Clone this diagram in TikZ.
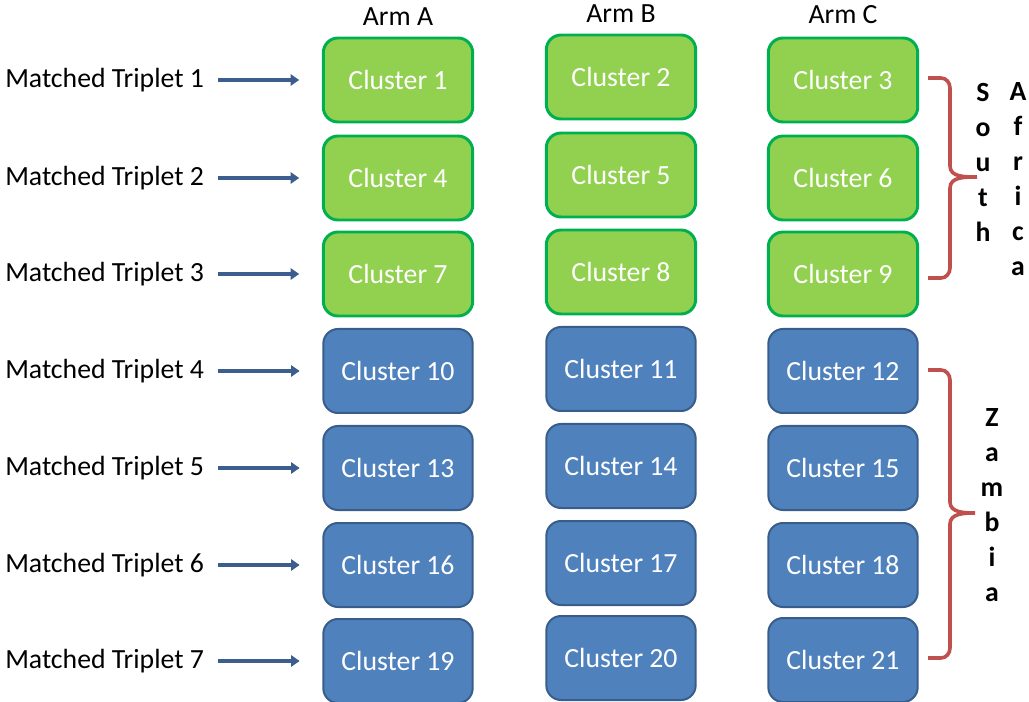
\documentclass[tikz,border=0pt]{standalone}
\usepackage{fontspec}
\setmainfont{Carlito}
\usetikzlibrary{arrows.meta}

\definecolor{boxgreen}{HTML}{92D050}
\definecolor{edgegreen}{HTML}{00B050}
\definecolor{boxblue}{HTML}{4F81BD}
\definecolor{edgeblue}{HTML}{385D8A}
\definecolor{arrowblue}{HTML}{3B5E8F}
\definecolor{bracered}{HTML}{C0504D}

\begin{document}
\begin{tikzpicture}[x=0.75pt, y=-0.75pt,
    every node/.style={font=\fontsize{20.8}{25}\selectfont},
    cluster/.style={rounded corners=11pt, minimum width=112pt, minimum height=63pt,
        inner sep=0pt, text=white},
    sabox/.style={cluster, draw=edgegreen, fill=boxgreen, line width=2.2pt},
    zmbox/.style={cluster, draw=edgeblue, fill=boxblue, line width=1.5pt},
    triplet/.style={anchor=west, inner sep=0pt},
    link/.style={arrowblue, line width=3.2pt, -{Triangle[length=6.5pt,width=8.5pt]},
        shorten <=10.5pt, shorten >=17pt},
    bracket/.style={bracered, line width=2.7pt},
    country/.style={font=\fontsize{20.8}{26.25}\selectfont\bfseries, align=center, inner sep=0pt}]

    \useasboundingbox (0,0) rectangle (1029,702);

    % Column headers
    \node (armA) at (398,17) {Arm A};
    \node (armB) at (621,14) {Arm B};
    \node (armC) at (843,15) {Arm C};

    % South Africa clusters
    \node[sabox] (c1) at (398,80) {Cluster 1};
    \node[sabox] (c2) at (621,77) {Cluster 2};
    \node[sabox] (c3) at (843,80) {Cluster 3};
    \node[sabox] (c4) at (398,178) {Cluster 4};
    \node[sabox] (c5) at (621,175) {Cluster 5};
    \node[sabox] (c6) at (843,178) {Cluster 6};
    \node[sabox] (c7) at (398,274) {Cluster 7};
    \node[sabox] (c8) at (621,272) {Cluster 8};
    \node[sabox] (c9) at (843,274) {Cluster 9};

    % Zambia clusters
    \node[zmbox] (c10) at (398,371) {Cluster 10};
    \node[zmbox] (c11) at (621,369) {Cluster 11};
    \node[zmbox] (c12) at (843,371) {Cluster 12};
    \node[zmbox] (c13) at (398,468) {Cluster 13};
    \node[zmbox] (c14) at (621,466) {Cluster 14};
    \node[zmbox] (c15) at (843,468) {Cluster 15};
    \node[zmbox] (c16) at (398,565) {Cluster 16};
    \node[zmbox] (c17) at (621,563) {Cluster 17};
    \node[zmbox] (c18) at (843,565) {Cluster 18};
    \node[zmbox] (c19) at (398,661) {Cluster 19};
    \node[zmbox] (c20) at (621,658) {Cluster 20};
    \node[zmbox] (c21) at (843,660) {Cluster 21};

    % Matched triplet labels
    \node[triplet] (t1) at (5,80) {Matched Triplet 1};
    \node[triplet] (t2) at (5,178) {Matched Triplet 2};
    \node[triplet] (t3) at (5,274) {Matched Triplet 3};
    \node[triplet] (t4) at (5,371) {Matched Triplet 4};
    \node[triplet] (t5) at (5,468) {Matched Triplet 5};
    \node[triplet] (t6) at (5,565) {Matched Triplet 6};
    \node[triplet] (t7) at (5,661) {Matched Triplet 7};

    % Draw the arrows into arm A
    \draw[link] (t1.east |- c1.west) -- (c1.west);
    \draw[link] (t2.east |- c4.west) -- (c4.west);
    \draw[link] (t3.east |- c7.west) -- (c7.west);
    \draw[link] (t4.east |- c10.west) -- (c10.west);
    \draw[link] (t5.east |- c13.west) -- (c13.west);
    \draw[link] (t6.east |- c16.west) -- (c16.west);
    \draw[link] (t7.east |- c19.west) -- (c19.west);

    % Draw the braces
    \draw[bracket] (928,78) -- (941,78) to[out=0,in=90] (950,88) -- (950,166)
        to[out=-90,in=180] (977,177) to[out=180,in=90] (950,188) -- (950,268)
        to[out=-90,in=0] (941,278) -- (928,278);
    \draw[bracket] (928,370) -- (941,370) to[out=0,in=90] (950,380) -- (950,502)
        to[out=-90,in=180] (975,513) to[out=180,in=90] (950,524) -- (950,648)
        to[out=-90,in=0] (941,658) -- (928,658);

    % Country names
    \node[country] (south) at (983,162) {S\\o\\u\\t\\h};
    \node[country] (africa) at (1018,179.5) {A\\f\\r\\i\\c\\a};
    \node[country] (zambia) at (992,505.5) {Z\\a\\m\\b\\i\\a};

\end{tikzpicture}
\end{document}
